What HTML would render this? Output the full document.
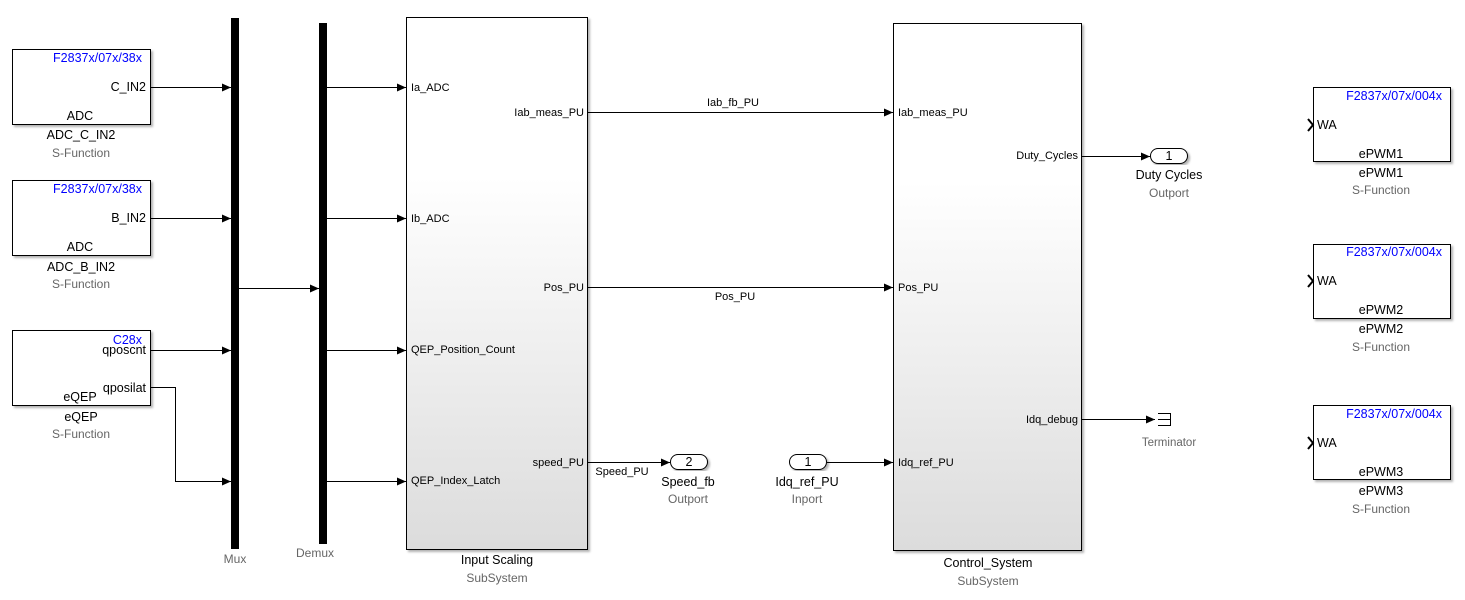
<!DOCTYPE html>
<html><head><meta charset="utf-8"><style>
html,body{margin:0;padding:0;background:#fff;}
svg{display:block;font-family:"Liberation Sans",Arial,sans-serif;}
.t{font-size:11px;fill:#000}
.n{font-size:12.5px;fill:#000}
.g{font-size:12px;fill:#666}
.b{font-size:12.5px;fill:#00f}
.w{stroke:#000;stroke-width:1;fill:none}
</style></head><body>
<svg width="1465" height="600" viewBox="0 0 1465 600" xmlns="http://www.w3.org/2000/svg">
<defs>
<linearGradient id="gr" x1="0" y1="0" x2="0" y2="1">
<stop offset="0.3" stop-color="#fff"/><stop offset="1" stop-color="#dcdcdc"/>
</linearGradient>
<marker id="a" markerWidth="10" markerHeight="8" refX="9" refY="4" orient="auto" markerUnits="userSpaceOnUse">
<path d="M0,0 L9,4 L0,8 z" fill="#000"/></marker>
<filter id="sh" x="-5%" y="-5%" width="115%" height="115%"><feDropShadow dx="2" dy="2" stdDeviation="1" flood-color="#000" flood-opacity="0.3"/></filter>
</defs>

<g filter="url(#sh)">
<rect x="12.5" y="49.5" width="138" height="75" fill="#fff" stroke="#000"/>
<rect x="12.5" y="180.5" width="138" height="75" fill="#fff" stroke="#000"/>
<rect x="12.5" y="330.5" width="138" height="75" fill="#fff" stroke="#000"/>
<rect x="1313.5" y="87.5" width="137" height="74" fill="#fff" stroke="#000"/>
<rect x="1313.5" y="244.5" width="137" height="74" fill="#fff" stroke="#000"/>
<rect x="1313.5" y="405.5" width="137" height="74" fill="#fff" stroke="#000"/>
<rect x="406.5" y="17.5" width="181" height="532" fill="url(#gr)" stroke="#000"/>
<rect x="893.5" y="23.5" width="188" height="527" fill="url(#gr)" stroke="#000"/>
</g>
<text class="b" x="142" y="62" text-anchor="end">F2837x/07x/38x</text>
<text class="n" x="146" y="91" text-anchor="end">C_IN2</text>
<text class="n" x="80" y="120" text-anchor="middle">ADC</text>
<text class="n" x="81" y="139" text-anchor="middle">ADC_C_IN2</text>
<text class="g" x="81" y="157" text-anchor="middle">S-Function</text>

<text class="b" x="142" y="193" text-anchor="end">F2837x/07x/38x</text>
<text class="n" x="146" y="222" text-anchor="end">B_IN2</text>
<text class="n" x="80" y="251" text-anchor="middle">ADC</text>
<text class="n" x="81" y="271" text-anchor="middle">ADC_B_IN2</text>
<text class="g" x="81" y="288" text-anchor="middle">S-Function</text>

<text class="b" x="142" y="344" text-anchor="end">C28x</text>
<text class="n" x="146" y="354" text-anchor="end">qposcnt</text>
<text class="n" x="146" y="392" text-anchor="end">qposilat</text>
<text class="n" x="80" y="401" text-anchor="middle">eQEP</text>
<text class="n" x="81" y="421" text-anchor="middle">eQEP</text>
<text class="g" x="81" y="438" text-anchor="middle">S-Function</text>

<rect x="231" y="18" width="8" height="531" fill="#000"/>
<rect x="319" y="23" width="8" height="521" fill="#000"/>
<text class="g" x="235" y="563" text-anchor="middle">Mux</text>
<text class="g" x="315" y="557" text-anchor="middle">Demux</text>

<line class="w" x1="151" y1="87.5" x2="231" y2="87.5" marker-end="url(#a)"/>
<line class="w" x1="151" y1="218.5" x2="231" y2="218.5" marker-end="url(#a)"/>
<line class="w" x1="151" y1="350.5" x2="231" y2="350.5" marker-end="url(#a)"/>
<polyline class="w" points="151,387.5 175.5,387.5 175.5,481.5 231,481.5" marker-end="url(#a)"/>
<line class="w" x1="239" y1="288.5" x2="319" y2="288.5" marker-end="url(#a)"/>
<line class="w" x1="327" y1="87.5" x2="406" y2="87.5" marker-end="url(#a)"/>
<line class="w" x1="327" y1="218.5" x2="406" y2="218.5" marker-end="url(#a)"/>
<line class="w" x1="327" y1="350.5" x2="406" y2="350.5" marker-end="url(#a)"/>
<line class="w" x1="327" y1="481.5" x2="406" y2="481.5" marker-end="url(#a)"/>

<text class="t" x="411" y="91">Ia_ADC</text>
<text class="t" x="411" y="222">Ib_ADC</text>
<text class="t" x="411" y="353">QEP_Position_Count</text>
<text class="t" x="411" y="484">QEP_Index_Latch</text>
<text class="t" x="584" y="116" text-anchor="end">Iab_meas_PU</text>
<text class="t" x="584" y="291" text-anchor="end">Pos_PU</text>
<text class="t" x="584" y="466" text-anchor="end">speed_PU</text>
<text class="n" x="497" y="564" text-anchor="middle">Input Scaling</text>
<text class="g" x="497" y="582" text-anchor="middle">SubSystem</text>

<line class="w" x1="588" y1="112.5" x2="893" y2="112.5" marker-end="url(#a)"/>
<text class="t" x="733" y="106" text-anchor="middle">Iab_fb_PU</text>
<line class="w" x1="588" y1="287.5" x2="893" y2="287.5" marker-end="url(#a)"/>
<text class="t" x="735" y="300" text-anchor="middle">Pos_PU</text>
<line class="w" x1="588" y1="462.5" x2="670" y2="462.5" marker-end="url(#a)"/>
<text class="t" x="622" y="475" text-anchor="middle">Speed_PU</text>

<rect x="670.5" y="454.5" width="37" height="15" rx="7.5" fill="#fff" stroke="#000" filter="url(#sh)"/>
<text class="n" x="689" y="466" text-anchor="middle">2</text>
<text class="n" x="688" y="486" text-anchor="middle">Speed_fb</text>
<text class="g" x="688" y="503" text-anchor="middle">Outport</text>

<rect x="789.5" y="454.5" width="37" height="15" rx="7.5" fill="#fff" stroke="#000" filter="url(#sh)"/>
<text class="n" x="808" y="466" text-anchor="middle">1</text>
<text class="n" x="807" y="486" text-anchor="middle">Idq_ref_PU</text>
<text class="g" x="807" y="503" text-anchor="middle">Inport</text>
<line class="w" x1="827" y1="462.5" x2="893" y2="462.5" marker-end="url(#a)"/>

<text class="t" x="898" y="116">Iab_meas_PU</text>
<text class="t" x="898" y="291">Pos_PU</text>
<text class="t" x="898" y="466">Idq_ref_PU</text>
<text class="t" x="1078" y="159" text-anchor="end">Duty_Cycles</text>
<text class="t" x="1078" y="423" text-anchor="end">Idq_debug</text>
<text class="n" x="988" y="567" text-anchor="middle">Control_System</text>
<text class="g" x="988" y="585" text-anchor="middle">SubSystem</text>

<line class="w" x1="1082" y1="156.5" x2="1150" y2="156.5" marker-end="url(#a)"/>
<rect x="1150.5" y="148.5" width="37" height="15" rx="7.5" fill="#fff" stroke="#000" filter="url(#sh)"/>
<text class="n" x="1169" y="160" text-anchor="middle">1</text>
<text class="n" x="1169" y="179" text-anchor="middle">Duty Cycles</text>
<text class="g" x="1169" y="197" text-anchor="middle">Outport</text>

<line class="w" x1="1082" y1="419.5" x2="1155" y2="419.5" marker-end="url(#a)"/>
<polyline class="w" points="1158,413.5 1170.5,413.5 1170.5,425.5 1158,425.5"/>
<line class="w" x1="1158" y1="419.5" x2="1170" y2="419.5"/>
<text class="g" x="1169" y="446" text-anchor="middle" style="font-size:11.5px">Terminator</text>

<g>
<polyline points="1308,119 1313,125 1308,131" fill="none" stroke="#000" stroke-width="2"/>
<text class="b" x="1442" y="100" text-anchor="end">F2837x/07x/004x</text>
<text class="n" x="1317" y="129">WA</text>
<text class="n" x="1381" y="158" text-anchor="middle">ePWM1</text>
<text class="n" x="1381" y="177" text-anchor="middle">ePWM1</text>
<text class="g" x="1381" y="194" text-anchor="middle">S-Function</text>

<polyline points="1308,275 1313,281 1308,287" fill="none" stroke="#000" stroke-width="2"/>
<text class="b" x="1442" y="256" text-anchor="end">F2837x/07x/004x</text>
<text class="n" x="1317" y="285">WA</text>
<text class="n" x="1381" y="314" text-anchor="middle">ePWM2</text>
<text class="n" x="1381" y="333" text-anchor="middle">ePWM2</text>
<text class="g" x="1381" y="351" text-anchor="middle">S-Function</text>

<polyline points="1308,437 1313,443 1308,449" fill="none" stroke="#000" stroke-width="2"/>
<text class="b" x="1442" y="418" text-anchor="end">F2837x/07x/004x</text>
<text class="n" x="1317" y="447">WA</text>
<text class="n" x="1381" y="476" text-anchor="middle">ePWM3</text>
<text class="n" x="1381" y="495" text-anchor="middle">ePWM3</text>
<text class="g" x="1381" y="513" text-anchor="middle">S-Function</text>
</g>
</svg>
</body></html>
